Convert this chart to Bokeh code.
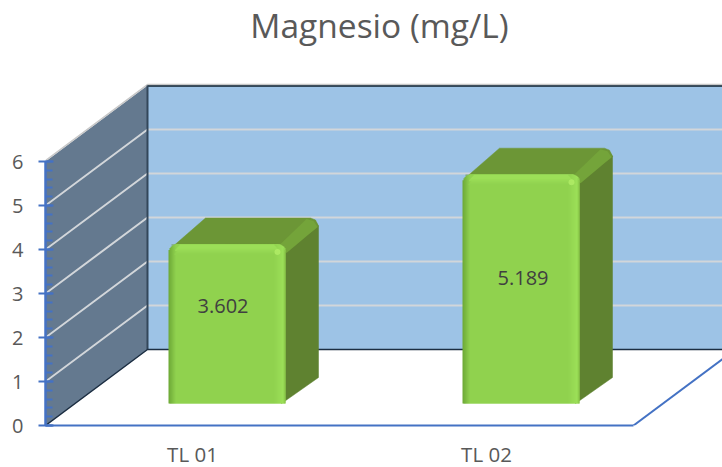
from bokeh.plotting import figure
from bokeh.models import Range1d, FixedTicker, LinearAxis
from bokeh.embed import file_html
from bokeh.resources import INLINE
from bokeh.core.properties import value
import math

title_text = "Magnesio (mg/L)"
categories = ["TL 01", "TL 02"]
magnesio = [3.602, 5.189]
value_labels = ["3.602", "5.189"]
y_ticks = [0, 1, 2, 3, 4, 5, 6]

FONT = "Open Sans"
PX_X, PX_Y = 294.0, 44.0          # pixels per category / per unit
WALL_DX, WALL_DY = 102 / PX_X, 76 / PX_Y
BAR_W = 117 / PX_X
BAR_SHIFT = 34.5 / PX_X           # front face, relative to the category slot
BAR_BASE = 22 / PX_Y
BAR_DX, BAR_DY = 33 / PX_X, 26 / PX_Y
LABEL_LIFT = [18 / PX_Y, 11 / PX_Y]
LABEL_NUDGE = [-3 / PX_X, 3 / PX_X]

p = figure(width=722, height=470, output_backend="svg", toolbar_location=None,
           x_range=Range1d(-0.5, 530 / PX_X), y_range=Range1d(0, 425 / PX_Y),
           min_border_left=45, min_border_right=0, min_border_top=0, min_border_bottom=45,
           x_axis_type=None, y_axis_type=None, outline_line_color=None,
           background_fill_color="white", margin=(0, 0, -3, 0))
p.grid.visible = False

p.text([187 / PX_X], [401 / PX_Y], text=[title_text], text_align="center", text_baseline="middle",
       text_font=value(FONT), text_font_size="33.5px", text_color="#595959")

x0, x1 = -0.5, 1.5
y_top = max(y_ticks)

# back wall and side wall
p.quad(left=[x0 + WALL_DX], right=[x1 + WALL_DX], bottom=[WALL_DY], top=[y_top + WALL_DY],
       fill_color="#9DC3E6", line_color=None)
p.patch([x0, x0 + WALL_DX, x0 + WALL_DX, x0], [0, WALL_DY, y_top + WALL_DY, y_top],
        fill_color="#64798F", line_color=None)

# gridlines
for v in y_ticks[1:-1]:
    p.line([x0, x0 + WALL_DX, x1 + WALL_DX], [v, v + WALL_DY, v + WALL_DY],
           line_color="#D2D6DA", line_width=2)

# wall edges
p.line([x0, x0 + WALL_DX, x1 + WALL_DX], [y_top + 0.02, y_top + WALL_DY + 0.02, y_top + WALL_DY + 0.02],
       line_color="#C8C8C8", line_width=1.5)
p.line([x0 + WALL_DX, x1 + WALL_DX], [y_top + WALL_DY - 0.01, y_top + WALL_DY - 0.01], line_color="#10202E", line_width=1.5)
p.line([x0 + WALL_DX, x0 + WALL_DX], [WALL_DY, y_top + WALL_DY], line_color="#33475A", line_width=2)
p.line([x0, x0 + WALL_DX, x1 + WALL_DX], [0, WALL_DY, WALL_DY], line_color="#1C2E42", line_width=1.5)

# floor edge on the right
p.line([x1, x1 + WALL_DX], [0, WALL_DY], line_color="#4472C4", line_width=2)


def mix(a, b, f):
    f = max(0.0, min(1.0, f))
    ca = [int(a[i:i + 2], 16) for i in (1, 3, 5)]
    cb = [int(b[i:i + 2], 16) for i in (1, 3, 5)]
    return "#%02x%02x%02x" % tuple(round(u + (w - u) * f) for u, w in zip(ca, cb))


BASE = "#90D24F"
EDGE = "#6FAA38"
LIGHT = "#9CDF58"
RIGHT_EDGE = "#7FBC42"


def column_colour(px, w):
    if px < 7:
        return mix(EDGE, BASE, px / 7)
    from_r = w - px
    if from_r < 3:
        return mix(RIGHT_EDGE, LIGHT, from_r / 3)
    if from_r < 12:
        return mix(LIGHT, BASE, (from_r - 3) / 9)
    return BASE


for i, val in enumerate(magnesio):
    left = i + BAR_SHIFT - BAR_W / 2
    right = left + BAR_W
    bottom = BAR_BASE
    top = bottom + val + 1 / PX_Y
    X = lambda a: a / PX_X
    Y = lambda a: a / PX_Y
    # side face
    p.patch([right - X(6), right + BAR_DX - X(4), right + BAR_DX, right + BAR_DX, right - X(4)],
            [top - Y(6), top + BAR_DY - Y(2), top + BAR_DY - Y(8), bottom + BAR_DY, bottom],
            fill_color="#5F8230", line_color="#5F8230", line_width=0.5)
    # top face
    p.patch([left + X(6), left + BAR_DX + X(4), right + BAR_DX - X(8), right + BAR_DX - X(3), right + BAR_DX,
             right + BAR_DX - X(2), right - X(3), right - X(10), left + X(3)],
            [top - Y(1), top + BAR_DY, top + BAR_DY, top + BAR_DY - Y(2), top + BAR_DY - Y(8),
             top + BAR_DY - Y(10), top - Y(8), top, top - Y(1)],
            fill_color="#6C9636", line_color="#6C9636", line_width=0.5)
    # lighter bevel on the right edge of the top face
    p.patch([right - X(6), right + BAR_DX - X(12), right + BAR_DX - X(5), right + BAR_DX - X(1), right + X(1)],
            [top - Y(1), top + BAR_DY - Y(1), top + BAR_DY - Y(3), top + BAR_DY - Y(9), top - Y(9)],
            fill_color="#74A43A", line_color=None)
    # front face: one overlapping column per pixel, with rounded top corners
    n = 117
    R = 9
    ls, rs, ts, bs, cs = [], [], [], [], []
    for c in range(n):
        d = min(c + 0.5, n - c - 0.5)
        drop = R - math.sqrt(max(R * R - (R - d) ** 2, 0)) if d < R else 0
        ls.append(left + X(c))
        rs.append(left + X(c + 1 if c == n - 1 else c + 2))
        ts.append(top - Y(drop))
        bs.append(bottom)
        cs.append(column_colour(c, n))
    p.quad(left=ls, right=rs, top=ts, bottom=bs, fill_color=cs, line_color=None)
    # top bevel: one row per pixel, fading downwards
    for k in range(10):
        inset = max(R - k, 0) * 0.9 + (3 if k > 5 else 0)
        p.quad(left=[left + X(inset + 3)], right=[right - X(inset + 3)],
               top=[top - Y(k + 0.5)], bottom=[top - Y(k + 2)],
               fill_color=mix(LIGHT, BASE, (k - 3) / 6), line_color=None)
    # corner glint
    p.scatter([right - X(8)], [top - Y(8)], size=6, marker="circle",
              fill_color="#B0EC66", line_color=None, fill_alpha=0.85)
    p.text([left + BAR_W / 2 - X(1) + LABEL_NUDGE[i]], [bottom + val / 2 + LABEL_LIFT[i]], text=[value_labels[i]],
           text_align="center", text_baseline="middle", text_font=value(FONT),
           text_font_size="20px", text_color="#404040")

# axes
yax = LinearAxis(ticker=FixedTicker(ticks=y_ticks, minor_ticks=[k / 5 for k in range(31)]),
                 bounds=(0, y_top), axis_line_color="#4472C4", axis_line_width=2.5,
                 major_tick_line_color="#4472C4", major_tick_line_width=2, major_tick_in=8, major_tick_out=7,
                 minor_tick_line_color="#4472C4", minor_tick_line_width=2, minor_tick_in=7, minor_tick_out=0,
                 major_label_text_font=FONT, major_label_text_font_size="20px",
                 major_label_text_color="#595959", major_label_standoff=15)
p.add_layout(yax, "left")

xax = LinearAxis(ticker=FixedTicker(ticks=list(range(len(categories)))),
                 major_label_overrides={i: c for i, c in enumerate(categories)},
                 bounds=(x0, x1), axis_line_color="#4472C4", axis_line_width=2,
                 major_tick_line_color=None, minor_tick_line_color=None,
                 major_tick_in=0, major_tick_out=0, minor_tick_in=0, minor_tick_out=0,
                 major_label_text_font=FONT, major_label_text_font_size="20.5px",
                 major_label_text_color="#595959", major_label_standoff=14)
p.add_layout(xax, "below")

open("out.html", "w").write(file_html(p, INLINE))
